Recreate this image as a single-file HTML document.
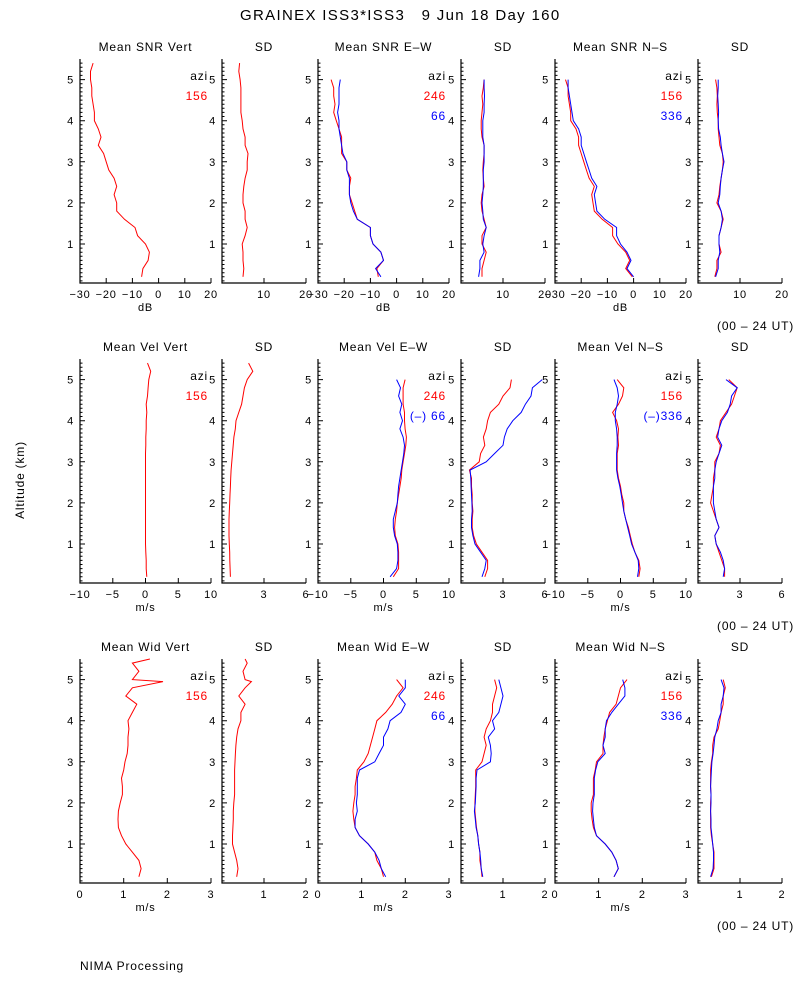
<!DOCTYPE html>
<html><head><meta charset="utf-8"><style>
body{margin:0;background:#fff;}
svg{display:block;font-family:"Liberation Sans",sans-serif;}
text{letter-spacing:0.8px;white-space:pre;}
</style></head><body>
<svg id="chart" width="800" height="1000" xmlns="http://www.w3.org/2000/svg">
<rect width="800" height="1000" fill="#fff"/>
<text x="240" y="20" font-size="15" textLength="320" lengthAdjust="spacing" xml:space="preserve">GRAINEX ISS3*ISS3   9 Jun 18 Day 160</text>
<text x="24" y="480" text-anchor="middle" font-size="12" transform="rotate(-90 24 480)">Altitude (km)</text>
<text x="80" y="970" font-size="12">NIMA Processing</text>
<text x="794" y="330" text-anchor="end" font-size="12">(00 – 24 UT)</text>
<text x="794" y="630" text-anchor="end" font-size="12">(00 – 24 UT)</text>
<text x="794" y="930" text-anchor="end" font-size="12">(00 – 24 UT)</text>
<g id="plots"></g>
</svg>
<script>
// altitude grids (km)
const altA = [0.2,0.4,0.6,0.8,1.0,1.2,1.4,1.6,1.8,2.0,2.2,2.4,2.6,2.8,3.0,3.2,3.4,3.6,3.8,4.0,4.2,4.4,4.6,4.8,5.0];
const altV = [0.2,0.4,0.6,0.8,1.0,1.2,1.4,1.6,1.8,2.0,2.2,2.4,2.6,2.8,3.0,3.2,3.4,3.6,3.8,4.0,4.2,4.4,4.6,4.8,5.0,5.2,5.4];
const altW = [0.2,0.4,0.6,0.8,1.0,1.2,1.4,1.6,1.8,2.0,2.2,2.4,2.6,2.8,3.0,3.2,3.4,3.6,3.8,4.0,4.2,4.4,4.6,4.8,4.95,5.0,5.2,5.4,5.5];

// Row 1: SNR (dB)
const snrVert = [-6.5,-6,-4,-3.5,-5,-8,-9,-13,-16,-16,-17,-16,-17,-19,-20,-21,-23,-22,-23,-24.5,-24.5,-25,-25.5,-25.5,-26,-26,-25];
const snrVertSd = [5,5.2,5,5,4.8,5.5,6,5.5,5.5,5,5,5.2,5.5,6,6,6.2,5.5,5.5,5,4.8,4.5,4.5,4.5,4.5,4.3,4,4.2];
const snrEwRed = [-7,-7.5,-5,-6,-9,-10,-10,-15,-16,-17,-18,-18,-17.5,-19,-19,-21,-21,-21,-22,-23,-24,-23.5,-24,-24,-25];
const snrEwBlue = [-6,-8,-5,-6,-9,-10,-10,-15,-16.5,-17.5,-18,-18,-18,-19,-19,-20.5,-21,-21.5,-22,-22,-22.5,-22,-22,-22,-21.5];
const snrEwSdRed = [5,5,5.5,6,5,5,6,5.5,5,4.8,5,5.5,5.3,5.2,5.3,5.5,5.5,5,4.8,4.8,5,5.2,5,5.3,5.5];
const snrEwSdBlue = [4.2,4.5,4.5,5.5,5.2,5.5,6,5.3,5.2,5,5.2,5.3,5.3,5.3,5.5,5.5,5.5,5.2,5.2,5.2,5.5,5.5,5.6,5.5,5.5];
const snrNsRed = [-0.5,-3,-1.5,-3,-6,-8,-8,-12,-15,-15.5,-16,-15,-17,-18,-19,-20,-21,-21,-22,-24,-24,-24.5,-25,-25,-26];
const snrNsBlue = [0,-2.5,-1,-2.5,-5,-6.5,-6.5,-11,-14,-14.5,-15,-14,-16,-17,-18,-19,-20,-20,-21,-23,-23.5,-24,-24.5,-25,-25];
const snrNsSdRed = [4,4.5,4.5,5.5,5,5,5.5,6,5.5,4.5,5,5.2,5.5,5.8,6,5.8,5.2,5,4.8,4.8,4.6,4.5,4.6,4.5,4.2];
const snrNsSdBlue = [4.2,4.8,4.8,5.2,5,5,5.5,5.8,5.5,4.8,5.2,5.3,5.5,5.8,6.2,5.8,5.5,5.3,4.9,4.8,4.9,4.8,4.7,4.8,4.8];

// Row 2: velocity (m/s)
const velVert = [0.2,0.1,0.1,0.05,0,0,0,0,0,0,0,0,0,0,0,0,0.05,0.05,0.1,0.1,0.2,0.1,0.3,0.4,0.5,0.8,0.3];
const velVertSd = [0.6,0.58,0.56,0.55,0.52,0.5,0.5,0.5,0.52,0.55,0.57,0.6,0.62,0.65,0.7,0.75,0.8,0.85,0.95,1.0,1.2,1.4,1.5,1.6,1.8,2.2,1.9];
const velEwRed = [1.5,2.3,2.3,2.3,2.2,1.8,1.7,1.8,2,2.1,2.3,2.5,2.7,2.8,3,3.2,3.4,3.5,3.3,3.2,3.2,3,3,3,3.3];
const velEwBlue = [1,2,2.2,2.2,2.1,1.7,1.5,1.5,1.8,2.1,2.2,2.3,2.5,2.7,2.9,3.1,3.2,3.0,2.5,2.9,2.5,2.8,2.3,2.6,2.0];
const velEwSdRed = [1.7,1.9,1.9,1.5,1.1,0.9,0.8,0.8,0.85,0.8,0.8,0.75,0.75,0.6,1.3,1.4,1.7,1.6,1.8,1.9,2.1,2.7,3.0,3.5,3.6];
const velEwSdBlue = [1.5,1.7,1.8,1.4,1.0,0.85,0.75,0.75,0.8,0.78,0.75,0.72,0.7,0.65,1.8,2.4,3.0,3.1,3.3,3.7,4.3,4.6,5.0,5.1,5.8];
const velNsRed = [2.8,3,2.8,2.2,1.8,1.5,1.2,0.8,0.5,0.5,0.2,0,-0.3,-0.5,-0.5,-0.5,-0.3,-0.4,-0.3,-0.6,-1.2,-0.3,0.3,0.5,-0.5];
const velNsBlue = [2.6,2.8,2.7,2.2,1.7,1.4,1.1,0.8,0.5,0.3,0.1,-0.1,-0.4,-0.6,-0.6,-0.6,-0.5,-0.5,-0.6,-0.8,-0.8,-0.5,-0.3,-0.5,-1.0];
const velNsSdRed = [1.9,1.9,1.7,1.5,1.3,1.2,1.5,1.3,1.1,0.9,1.0,1.1,1.1,1.2,1.2,1.5,1.6,1.3,1.5,1.6,2.0,2.4,2.6,2.8,2.2];
const velNsSdBlue = [1.8,1.9,1.8,1.6,1.3,1.2,1.5,1.3,1.2,1.1,1.1,1.1,1.2,1.2,1.3,1.5,1.7,1.4,1.5,1.7,2.1,2.3,2.4,2.8,2.0];

// Row 3: spectral width (m/s)
const widVert = [1.35,1.4,1.35,1.2,1.05,0.95,0.88,0.87,0.88,0.92,0.97,0.97,0.95,1.0,1.03,1.08,1.1,1.1,1.12,1.1,1.2,1.3,1.05,1.2,1.9,1.2,1.35,1.2,1.6];
const widVertSd = [0.35,0.38,0.35,0.3,0.25,0.25,0.26,0.27,0.27,0.28,0.3,0.3,0.3,0.3,0.31,0.32,0.33,0.35,0.38,0.45,0.45,0.55,0.4,0.55,0.7,0.55,0.5,0.6,0.55];
const widEwRed = [1.5,1.45,1.35,1.3,1.15,0.95,0.85,0.82,0.8,0.82,0.85,0.85,0.88,0.9,1.05,1.15,1.2,1.25,1.3,1.35,1.55,1.7,1.8,1.95,1.8];
const widEwBlue = [1.55,1.45,1.4,1.3,1.15,0.95,0.85,0.85,0.9,0.88,0.9,0.9,0.9,0.95,1.3,1.4,1.5,1.5,1.6,1.65,1.9,2.0,1.85,2.0,2.0];
const widEwSdRed = [0.5,0.48,0.45,0.45,0.42,0.4,0.37,0.35,0.33,0.33,0.34,0.35,0.35,0.35,0.5,0.55,0.6,0.55,0.6,0.7,0.75,0.75,0.8,0.85,0.8];
const widEwSdBlue = [0.52,0.48,0.47,0.45,0.42,0.4,0.36,0.34,0.32,0.34,0.35,0.36,0.36,0.38,0.7,0.72,0.7,0.65,0.8,0.75,0.9,0.95,1.0,0.95,0.9];
const widNsRed = [1.35,1.45,1.4,1.3,1.15,0.95,0.88,0.85,0.83,0.83,0.88,0.88,0.88,0.92,0.95,1.1,1.1,1.12,1.15,1.2,1.25,1.4,1.45,1.5,1.65];
const widNsBlue = [1.35,1.45,1.4,1.3,1.15,0.95,0.9,0.88,0.86,0.87,0.9,0.9,0.9,0.93,0.98,1.15,1.1,1.15,1.15,1.18,1.3,1.45,1.6,1.6,1.55];
const widNsSdRed = [0.32,0.38,0.38,0.38,0.35,0.32,0.3,0.3,0.3,0.3,0.31,0.3,0.3,0.3,0.32,0.35,0.35,0.38,0.48,0.52,0.55,0.6,0.6,0.65,0.6];
const widNsSdBlue = [0.3,0.36,0.37,0.37,0.35,0.33,0.31,0.31,0.3,0.31,0.31,0.3,0.31,0.32,0.33,0.36,0.38,0.4,0.45,0.48,0.55,0.55,0.6,0.62,0.55];

// tick labels
const snrTicks = [-30,-20,-10,0,10,20];
const snrSdTicks = [10,20];
const velTicks = [-10,-5,0,5,10];
const velSdTicks = [3,6];
const widTicks = [0,1,2,3];
const widSdTicks = [1,2];
const altTicks = [1,2,3,4,5];

const NS = "http://www.w3.org/2000/svg";
const root = document.getElementById('plots');
const colX = [[80,211],[222,306],[318,449],[461,545],[555,686],[698,782]];
const rowY = [[59,283],[359,583],[659,883]];
const ALT0 = 0.05, ALT1 = 5.5;

function mk(tag, attrs, parent){
  const e = document.createElementNS(NS, tag);
  for (const k in attrs) e.setAttribute(k, attrs[k]);
  (parent||root).appendChild(e);
  return e;
}

function panel(r, c, title, xmin, xmax, ticks, unit, series, legend, name){
  const [x0,x1] = colX[c], [y0,y1] = rowY[r];
  const g = mk('g', {});
  
  
  const xs = v => x0 + (v - xmin) / (xmax - xmin) * (x1 - x0);
  const ys = a => y1 - (a - ALT0) / (ALT1 - ALT0) * (y1 - y0);
  const t = mk('text', {x:(x0+x1)/2, y:y0-8, 'text-anchor':'middle', 'font-size':12}, g);
  t.textContent = title;
  
  
  const ax = mk('path', {d:`M${x0} ${y0}V${y1}H${x1}`, stroke:'#000', fill:'none', 'stroke-width':1.2}, g);
  
  
  let d = '';
  for (let k = 1; k <= 54; k++) {
    const a = k / 10; if (a < ALT0) continue;
    const yy = ys(a).toFixed(1);
    d += `M${x0} ${yy}h${k % 10 === 0 ? 5 : 2.5}`;
  }
  ticks.forEach(v => { d += `M${xs(v).toFixed(1)} ${y1}v-5`; });
  mk('path', {d, stroke:'#000', 'stroke-width':1}, g);
  altTicks.forEach(a => {
    const tl = mk('text', {x:x0-6, y:ys(a)+4, 'text-anchor':'end', 'font-size':11}, g);
    tl.textContent = a;
    
    
  });
  ticks.forEach(v => {
    const tl = mk('text', {x:xs(v), y:y1+15, 'text-anchor':'middle', 'font-size':11}, g);
    tl.textContent = v < 0 ? '\u2212' + (-v) : v;
    
    
  });
  if (unit) {
    const u = mk('text', {x:(x0+x1)/2, y:y1+28, 'text-anchor':'middle', 'font-size':11}, g);
    u.textContent = unit;
    
    
  }
  series.forEach(s => {
    const pts = s.alt.map((a, i) => xs(s.vals[i]).toFixed(1) + ',' + ys(a).toFixed(1)).join(' ');
    const pl = mk('polyline', {points:pts, fill:'none', stroke:s.color, 'stroke-width':1}, g);
    
    
  });
  if (legend) {
    const lx = x1 - 3;
    const lg = [['azi','#000']].concat(legend);
    lg.forEach((L, i) => {
      const tl = mk('text', {x:lx, y:y0+21+i*20, 'text-anchor':'end', 'font-size':12, fill:L[1]}, g);
      tl.textContent = L[0];
      
      
    });
  }
}
const R='#ff0000', B='#0000ff';
panel(0,0,'Mean SNR Vert',-30,20,snrTicks,'dB',[{alt:altV,vals:snrVert,color:R,name:'snr-vert-line'}],[['156',R]],'snr-vert-panel');
panel(0,1,'SD',0,20,snrSdTicks,'',[{alt:altV,vals:snrVertSd,color:R,name:'snr-vert-sd-line'}],null,'snr-vert-sd-panel');
panel(0,2,'Mean SNR E\u2013W',-30,20,snrTicks,'dB',[{alt:altA,vals:snrEwRed,color:R,name:'snr-ew-246-line'},{alt:altA,vals:snrEwBlue,color:B,name:'snr-ew-66-line'}],[['246',R],['66',B]],'snr-ew-panel');
panel(0,3,'SD',0,20,snrSdTicks,'',[{alt:altA,vals:snrEwSdRed,color:R,name:'snr-ew-sd-246-line'},{alt:altA,vals:snrEwSdBlue,color:B,name:'snr-ew-sd-66-line'}],null,'snr-ew-sd-panel');
panel(0,4,'Mean SNR N\u2013S',-30,20,snrTicks,'dB',[{alt:altA,vals:snrNsRed,color:R,name:'snr-ns-156-line'},{alt:altA,vals:snrNsBlue,color:B,name:'snr-ns-336-line'}],[['156',R],['336',B]],'snr-ns-panel');
panel(0,5,'SD',0,20,snrSdTicks,'',[{alt:altA,vals:snrNsSdRed,color:R,name:'snr-ns-sd-156-line'},{alt:altA,vals:snrNsSdBlue,color:B,name:'snr-ns-sd-336-line'}],null,'snr-ns-sd-panel');

panel(1,0,'Mean Vel Vert',-10,10,velTicks,'m/s',[{alt:altV,vals:velVert,color:R,name:'vel-vert-line'}],[['156',R]],'vel-vert-panel');
panel(1,1,'SD',0,6,velSdTicks,'',[{alt:altV,vals:velVertSd,color:R,name:'vel-vert-sd-line'}],null,'vel-vert-sd-panel');
panel(1,2,'Mean Vel E\u2013W',-10,10,velTicks,'m/s',[{alt:altA,vals:velEwRed,color:R,name:'vel-ew-246-line'},{alt:altA,vals:velEwBlue,color:B,name:'vel-ew-66-line'}],[['246',R],['(\u2013) 66',B]],'vel-ew-panel');
panel(1,3,'SD',0,6,velSdTicks,'',[{alt:altA,vals:velEwSdRed,color:R,name:'vel-ew-sd-246-line'},{alt:altA,vals:velEwSdBlue,color:B,name:'vel-ew-sd-66-line'}],null,'vel-ew-sd-panel');
panel(1,4,'Mean Vel N\u2013S',-10,10,velTicks,'m/s',[{alt:altA,vals:velNsRed,color:R,name:'vel-ns-156-line'},{alt:altA,vals:velNsBlue,color:B,name:'vel-ns-336-line'}],[['156',R],['(\u2013)336',B]],'vel-ns-panel');
panel(1,5,'SD',0,6,velSdTicks,'',[{alt:altA,vals:velNsSdRed,color:R,name:'vel-ns-sd-156-line'},{alt:altA,vals:velNsSdBlue,color:B,name:'vel-ns-sd-336-line'}],null,'vel-ns-sd-panel');

panel(2,0,'Mean Wid Vert',0,3,widTicks,'m/s',[{alt:altW,vals:widVert,color:R,name:'wid-vert-line'}],[['156',R]],'wid-vert-panel');
panel(2,1,'SD',0,2,widSdTicks,'',[{alt:altW,vals:widVertSd,color:R,name:'wid-vert-sd-line'}],null,'wid-vert-sd-panel');
panel(2,2,'Mean Wid E\u2013W',0,3,widTicks,'m/s',[{alt:altA,vals:widEwRed,color:R,name:'wid-ew-246-line'},{alt:altA,vals:widEwBlue,color:B,name:'wid-ew-66-line'}],[['246',R],['66',B]],'wid-ew-panel');
panel(2,3,'SD',0,2,widSdTicks,'',[{alt:altA,vals:widEwSdRed,color:R,name:'wid-ew-sd-246-line'},{alt:altA,vals:widEwSdBlue,color:B,name:'wid-ew-sd-66-line'}],null,'wid-ew-sd-panel');
panel(2,4,'Mean Wid N\u2013S',0,3,widTicks,'m/s',[{alt:altA,vals:widNsRed,color:R,name:'wid-ns-156-line'},{alt:altA,vals:widNsBlue,color:B,name:'wid-ns-336-line'}],[['156',R],['336',B]],'wid-ns-panel');
panel(2,5,'SD',0,2,widSdTicks,'',[{alt:altA,vals:widNsSdRed,color:R,name:'wid-ns-sd-156-line'},{alt:altA,vals:widNsSdBlue,color:B,name:'wid-ns-sd-336-line'}],null,'wid-ns-sd-panel');
</script>
</body></html>
